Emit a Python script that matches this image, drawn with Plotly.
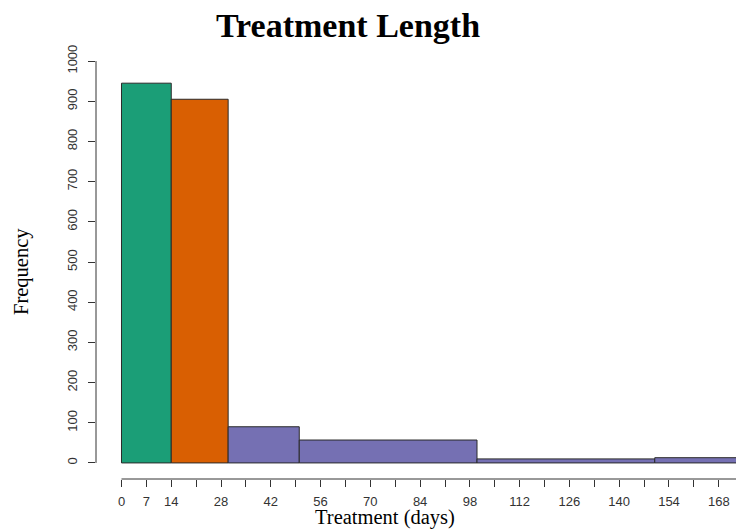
import plotly.graph_objects as go

# Data
breaks = [0, 14, 30, 50, 100, 150, 180]
counts = [945, 905, 90, 57, 10, 13]
bar_colors = ["#1B9E77", "#D95F02", "#7570B3", "#7570B3", "#7570B3", "#7570B3"]
x_tickvals = list(range(0, 176, 7))
x_ticklabels = [str(v) if (v == 7 or v % 14 == 0) else "" for v in x_tickvals]
y_tickvals = list(range(0, 1001, 100))

centers = [(a + b) / 2 for a, b in zip(breaks[:-1], breaks[1:])]
widths = [b - a for a, b in zip(breaks[:-1], breaks[1:])]

fig = go.Figure()
fig.add_trace(go.Bar(
    x=centers, y=counts, width=widths,
    marker=dict(color=bar_colors, line=dict(color="#2a2a2a", width=1)),
    showlegend=False, hoverinfo="skip",
))

tick_font = dict(family="Liberation Sans, Arial, sans-serif", size=13, color="#333333")

fig.update_layout(
    width=736, height=529,
    margin=dict(l=96, r=0, t=45, b=50),
    paper_bgcolor="white", plot_bgcolor="white",
    title=dict(
        text="<b>Treatment Length</b>",
        font=dict(family="Liberation Serif, Times New Roman, serif", size=34, color="black"),
        x=348 / 736, xanchor="center", xref="container",
        y=1 - 25 / 529, yanchor="middle", yref="container",
    ),
    xaxis=dict(
        range=[-7.17, 172.85], showgrid=False, zeroline=False, showline=False,
        tickmode="array", tickvals=x_tickvals, ticktext=x_ticklabels,
        ticks="outside", ticklen=7, tickwidth=1, tickcolor="#333333",
        tickfont=tick_font, ticklabelstandoff=3,
    ),
    yaxis=dict(
        range=[-40, 1040], showgrid=False, zeroline=False, showline=False,
        tickmode="array", tickvals=y_tickvals,
        ticks="outside", ticklen=7, tickwidth=1, tickcolor="#333333",
        tickfont=tick_font, tickangle=-90, ticklabelstandoff=6,
    ),
    shapes=[
        dict(type="line", xref="x", yref="paper", x0=0, x1=175, y0=0, y1=0,
             line=dict(color="#333333", width=1)),
        dict(type="line", xref="paper", yref="y", x0=0, x1=0, y0=0, y1=1000,
             line=dict(color="#333333", width=1)),
    ],
    annotations=[
        dict(text="Treatment (days)", xref="paper", yref="paper",
             x=(385 - 96) / 640, y=-(517.5 - 479) / 434, xanchor="center", yanchor="middle",
             showarrow=False,
             font=dict(family="Liberation Serif, Times New Roman, serif", size=20.5, color="black")),
        dict(text="Frequency", xref="paper", yref="paper",
             x=(21 - 96) / 640, y=(479 - 272) / 434, xanchor="center", yanchor="middle",
             textangle=-90, showarrow=False,
             font=dict(family="Liberation Serif, Times New Roman, serif", size=20.5, color="black")),
    ],
)

fig.write_html("out.html", config={"displayModeBar": False},
               post_script="document.body.style.margin='0px';")
